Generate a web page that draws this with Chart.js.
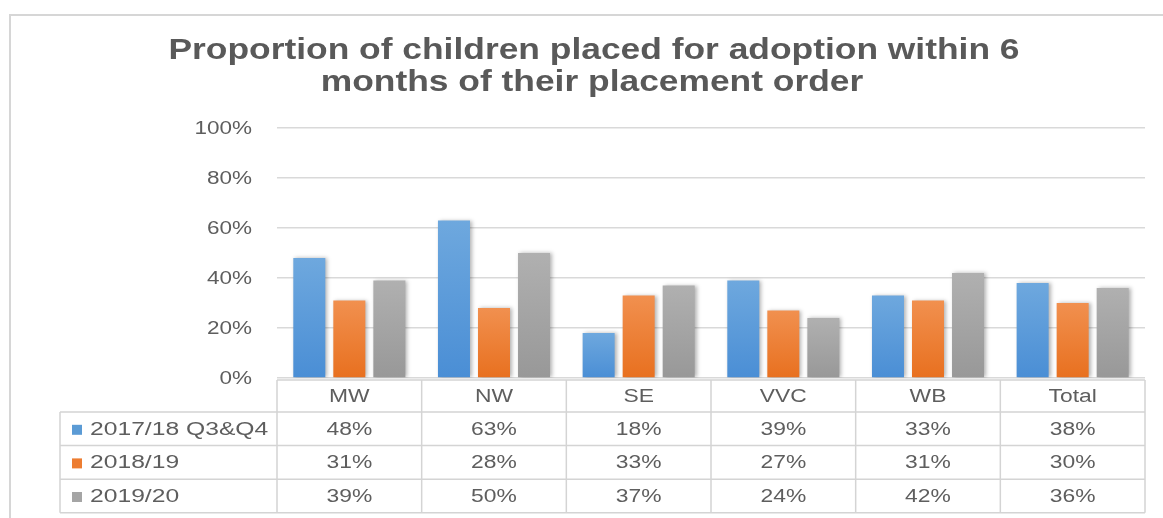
<!DOCTYPE html>
<html>
<head>
<meta charset="utf-8">
<script src="https://cdn.jsdelivr.net/npm/chart.js@4.4.1/dist/chart.umd.min.js"></script>
<style>
html,body{margin:0;padding:0;background:#fff;}
#wrap{width:1163px;height:518px;position:relative;}
</style>
</head>
<body>
<div id="wrap"><canvas id="c" width="1163" height="518"></canvas></div>
<script>
const titleLines = ['Proportion of children placed for adoption within 6', 'months of their placement order'];
const categories = ['MW', 'NW', 'SE', 'VVC', 'WB', 'Total'];
const seriesNames = ['2017/18 Q3&Q4', '2018/19', '2019/20'];
const s2017 = [48, 63, 18, 39, 33, 38];
const s2018 = [31, 28, 33, 27, 31, 30];
const s2019 = [39, 50, 37, 24, 42, 36];
const yTickValues = [0, 20, 40, 60, 80, 100];
const yTickLabels = ['0%', '20%', '40%', '60%', '80%', '100%'];

const colorTop = ['#6EA8DE', '#F1904F', '#B0B0B0'];
const colorBot = ['#4A8ED5', '#E8701F', '#989898'];
const colorFlat = ['#5B9BD5', '#ED7D31', '#A5A5A5'];
const TEXT = '#5E5E5E';

function barFill(i) {
  return function (ctx) {
    const chart = ctx.chart;
    if (!chart.chartArea || ctx.raw == null) return colorFlat[i];
    const y = chart.scales.y;
    const top = y.getPixelForValue(ctx.raw);
    const bot = y.getPixelForValue(0);
    if (!isFinite(top) || bot - top < 1) return colorFlat[i];
    const g = chart.ctx.createLinearGradient(0, top, 0, bot);
    g.addColorStop(0, colorTop[i]);
    g.addColorStop(1, colorBot[i]);
    return g;
  };
}

function sText(ctx, text, x, y, align, sx) {
  ctx.save();
  ctx.translate(x, y);
  ctx.scale(sx, 1);
  ctx.textAlign = align;
  ctx.fillText(text, 0, 0);
  ctx.restore();
}

const shadowPlugin = {
  id: 'shadow',
  beforeDatasetsDraw(chart) {
    const c = chart.ctx;
    c.save();
    c.shadowColor = 'rgba(0,0,0,0.30)';
    c.shadowBlur = 4;
    c.shadowOffsetX = 2;
    c.shadowOffsetY = 0;
  },
  afterDatasetsDraw(chart) { chart.ctx.restore(); }
};

const decoPlugin = {
  id: 'deco',
  afterDraw(chart) {
    const c = chart.ctx;
    const ca = chart.chartArea;
    const yS = chart.scales.y;
    // outer border
    c.save();
    c.strokeStyle = '#D6D6D6';
    c.lineWidth = 2;
    c.beginPath();
    c.moveTo(10, 518); c.lineTo(10, 15); c.lineTo(1163, 15);
    c.stroke();

    // title
    c.fillStyle = '#595959';
    c.font = 'bold 29px "Liberation Sans", Arial, sans-serif';
    c.textBaseline = 'alphabetic';
    sText(c, titleLines[0], 594, 59, 'center', 1.22);
    sText(c, titleLines[1], 592, 91, 'center', 1.22);

    // y tick labels
    c.fillStyle = TEXT;
    c.font = '18px "Liberation Sans", Arial, sans-serif';
    c.textBaseline = 'middle';
    yTickValues.forEach((v, i) => {
      sText(c, yTickLabels[i], 252, yS.getPixelForValue(v) + 1, 'right', 1.25);
    });

    // data table
    const n = categories.length;
    const cw = ca.width / n;
    const hTop = ca.bottom + 2;
    const hBot = hTop + 32;
    const rowH = 33.6;
    const tBot = hBot + rowH * 3;
    const legLeft = 60;
    c.strokeStyle = '#D4D4D4';
    c.lineWidth = 1.5;
    c.beginPath();
    c.moveTo(ca.left, hTop); c.lineTo(ca.right, hTop);
    for (let r = 0; r <= 3; r++) {
      const yy = hBot + rowH * r;
      c.moveTo(legLeft, yy); c.lineTo(ca.right, yy);
    }
    for (let k = 0; k <= n; k++) {
      const xx = ca.left + cw * k;
      c.moveTo(xx, hTop); c.lineTo(xx, tBot);
    }
    c.moveTo(legLeft, hBot); c.lineTo(legLeft, tBot);
    c.stroke();

    c.fillStyle = TEXT;
    c.font = '18px "Liberation Sans", Arial, sans-serif';
    c.textBaseline = 'middle';
    categories.forEach((cat, k) => {
      sText(c, cat, ca.left + cw * (k + 0.5), (hTop + hBot) / 2 + 1, 'center', 1.27);
    });
    const series = [s2017, s2018, s2019];
    series.forEach((vals, r) => {
      const yc = hBot + rowH * (r + 0.5) + 1;
      c.fillStyle = colorFlat[r];
      c.fillRect(72, yc - 5, 10, 10);
      c.fillStyle = TEXT;
      sText(c, seriesNames[r], 90, yc, 'left', 1.37);
      vals.forEach((v, k) => {
        sText(c, v + '%', ca.left + cw * (k + 0.5), yc, 'center', 1.27);
      });
    });
    c.restore();
  }
};

new Chart(document.getElementById('c'), {
  type: 'bar',
  data: {
    labels: categories,
    datasets: [
      { label: seriesNames[0], data: s2017, backgroundColor: barFill(0) },
      { label: seriesNames[1], data: s2018, backgroundColor: barFill(1) },
      { label: seriesNames[2], data: s2019, backgroundColor: barFill(2) }
    ]
  },
  options: {
    responsive: false,
    animation: false,
    events: [],
    layout: { padding: { left: 277, right: 18, top: 128, bottom: 140 } },
    datasets: { bar: { categoryPercentage: 0.83, barPercentage: 0.8, borderWidth: 0 } },
    plugins: { legend: { display: false }, title: { display: false }, tooltip: { enabled: false } },
    scales: {
      x: { display: false },
      y: {
        min: 0, max: 100,
        ticks: { display: false, stepSize: 20 },
        grid: { color: '#D9D9D9', lineWidth: 1.5, drawTicks: false },
        border: { display: false },
        afterFit: (s) => { s.width = 0; }
      }
    }
  },
  plugins: [shadowPlugin, decoPlugin]
});
</script>
</body>
</html>
